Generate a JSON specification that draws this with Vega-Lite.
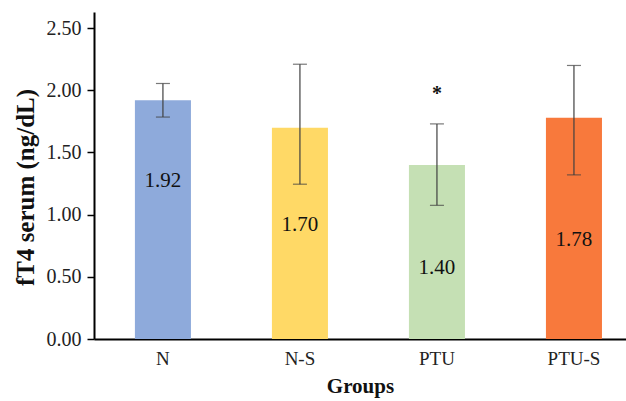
{
  "$schema": "https://vega.github.io/schema/vega-lite/v6.json",
  "autosize": {"type": "none"},
  "width": 532,
  "height": 327,
  "padding": {"left": 94, "top": 12, "right": 0, "bottom": 62},
  "background": "white",
  "config": {"view": {"stroke": null}, "font": "Liberation Serif"},
  "data": {"values": [
    {"group": "N", "value": 1.92, "lo": 1.785, "hi": 2.055, "labelY": 1.27, "sig": ""},
    {"group": "N-S", "value": 1.70, "lo": 1.245, "hi": 2.21, "labelY": 0.92, "sig": ""},
    {"group": "PTU", "value": 1.40, "lo": 1.075, "hi": 1.73, "labelY": 0.57, "sig": "*"},
    {"group": "PTU-S", "value": 1.78, "lo": 1.32, "hi": 2.20, "labelY": 0.80, "sig": ""}
  ]},
  "encoding": {
    "x": {
      "field": "group", "type": "nominal", "sort": null,
      "scale": {"paddingInner": 0.591, "paddingOuter": 0.237, "align": 0.63},
      "axis": {
        "title": "Groups", "titleFont": "Liberation Serif", "titleFontSize": 21, "titleFontWeight": "bold", "titleColor": "#111", "titlePadding": 7,
        "labelAngle": 0, "labelFont": "Liberation Serif", "labelFontSize": 19, "labelColor": "#222", "labelPadding": 10,
        "ticks": false, "domainColor": "#000", "domainWidth": 2, "grid": false
      }
    }
  },
  "layer": [
    {
      "mark": {"type": "bar"},
      "encoding": {
        "y": {
          "field": "value", "type": "quantitative",
          "scale": {"domain": [0, 2.63], "nice": false},
          "axis": {
            "title": "fT4 serum (ng/dL)", "titleFont": "Liberation Serif", "titleFontSize": 25, "titleFontWeight": "bold", "titleColor": "#111",
            "titleX": -69, "titleY": 175, "titleBaseline": "middle", "titleAlign": "center", "titleAngle": -90,
            "values": [0, 0.5, 1, 1.5, 2, 2.5], "format": ".2f",
            "labelFont": "Liberation Serif", "labelFontSize": 20, "labelColor": "#222", "labelPadding": 6,
            "tickColor": "#000", "tickSize": 7, "tickWidth": 1.5, "domainColor": "#000", "domainWidth": 2, "grid": false
          }
        },
        "color": {
          "field": "group", "type": "nominal", "sort": null, "legend": null,
          "scale": {"domain": ["N", "N-S", "PTU", "PTU-S"], "range": ["#8EAADB", "#FFD966", "#C5E0B4", "#F8793C"]}
        }
      }
    },
    {
      "mark": {"type": "rule", "color": "#404040", "strokeWidth": 1.2},
      "encoding": {"y": {"field": "lo", "type": "quantitative"}, "y2": {"field": "hi"}}
    },
    {
      "mark": {"type": "tick", "color": "#404040", "thickness": 1.2, "size": 14, "orient": "horizontal"},
      "encoding": {"y": {"field": "lo", "type": "quantitative"}}
    },
    {
      "mark": {"type": "tick", "color": "#404040", "thickness": 1.2, "size": 14, "orient": "horizontal"},
      "encoding": {"y": {"field": "hi", "type": "quantitative"}}
    },
    {
      "mark": {"type": "text", "font": "Liberation Serif", "fontSize": 21, "color": "#111", "baseline": "middle"},
      "encoding": {"y": {"field": "labelY", "type": "quantitative"}, "text": {"field": "value", "type": "quantitative", "format": ".2f"}}
    },
    {
      "mark": {"type": "text", "font": "Liberation Serif", "fontSize": 20, "fontWeight": "bold", "color": "#111", "baseline": "middle", "dy": -30},
      "encoding": {"y": {"field": "hi", "type": "quantitative"}, "text": {"field": "sig", "type": "nominal"}}
    }
  ]
}
